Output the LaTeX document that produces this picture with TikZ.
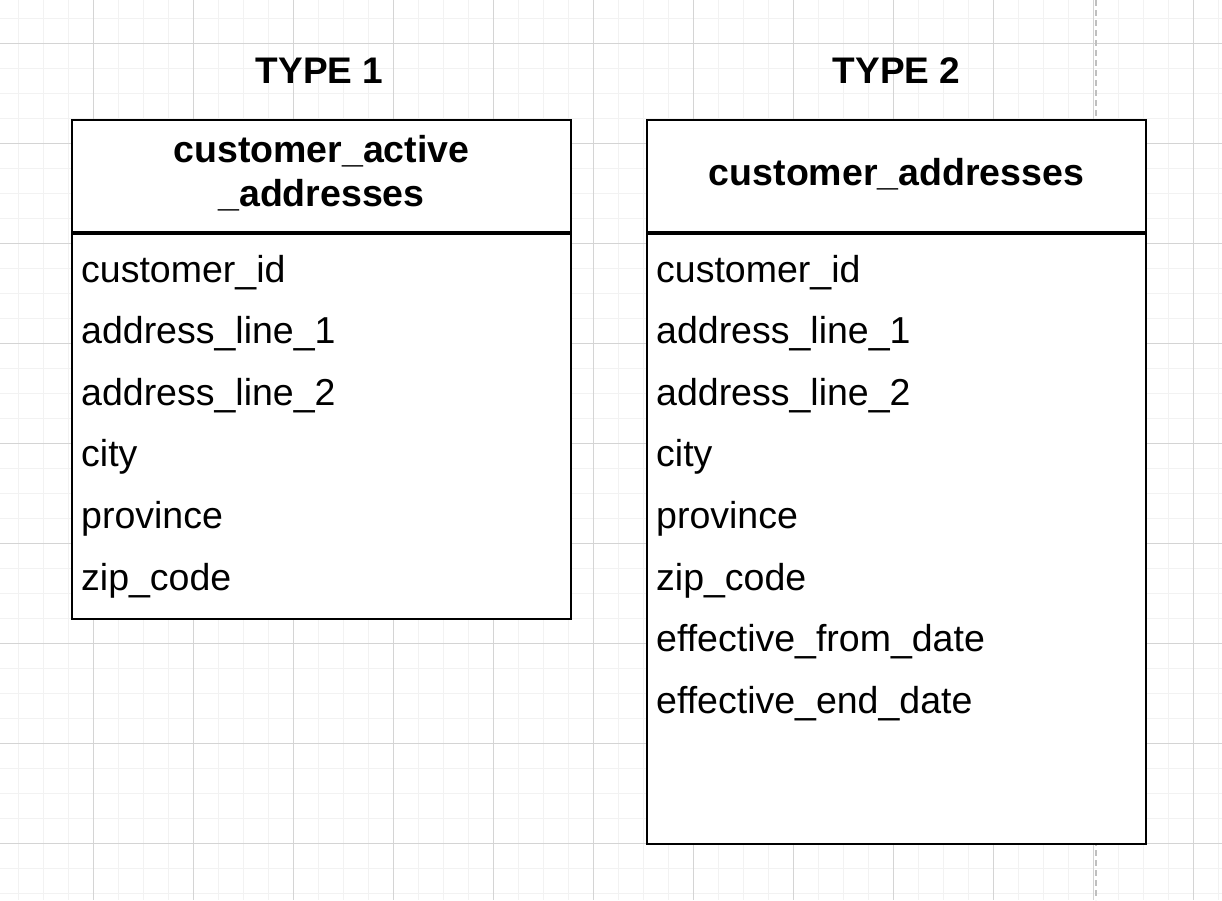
\documentclass[tikz,border=0pt]{standalone}
\usepackage{fontspec}
\setmainfont{Liberation Sans}
\usetikzlibrary{positioning,calc}
\tikzset{
  minorgrid/.style={line width=1pt, black!5},
  majorgrid/.style={line width=1pt, black!17},
  pagebreak/.style={line width=2pt, black!25, dash pattern=on 6pt off 4pt},
  tablebox/.style={draw=black, line width=2pt, fill=white, anchor=north west,
    minimum width=499pt, inner sep=0pt, outer sep=0pt},
  headrule/.style={line width=4pt, black},
  typetitle/.style={font=\fontsize{37}{44}\selectfont\bfseries, anchor=base, inner sep=0pt},
  heading/.style={font=\fontsize{37.5}{44}\selectfont\bfseries, align=center, inner sep=0pt},
  field/.style={font=\fontsize{37.5}{44}\selectfont, anchor=base west, inner sep=0pt},
}

\begin{document}
\begin{tikzpicture}[x=1pt, y=-1pt]
  % Canvas and background grid
  \useasboundingbox (0,0) rectangle (1222,900);
  \fill[white] (0,0) rectangle (1222,900);
  \foreach \g in {0,...,48} \draw[minorgrid] ({18+25*\g},0) -- ++(0,900);
  \foreach \g in {0,...,35} \draw[minorgrid] (0,{18+25*\g}) -- ++(1222,0);
  \foreach \g in {0,...,11} \draw[majorgrid] ({93+100*\g},0) -- ++(0,900);
  \foreach \g in {0,...,8} \draw[majorgrid] (0,{43+100*\g}) -- ++(1222,0);
  \draw[pagebreak] (1096,0) -- (1096,900);

  % Tables
  \node[tablebox, minimum height=499pt] (t1) at (72,120) {};
  \node[tablebox, minimum height=724pt] (t2) at (647,120) {};

  % Header rules
  \coordinate (t1h) at ($(t1.north west)+(0,113)$);
  \coordinate (t2h) at ($(t2.north west)+(0,113)$);
  \draw[headrule] (t1h) -- (t1h -| t1.east);
  \draw[headrule] (t2h) -- (t2h -| t2.east);

  % Titles and table names
  \node[typetitle] (type1) at ($(t1.north)+(-2,-37)$) {TYPE 1};
  \node[typetitle] (type2) at ($(t2.north)+(0,-37)$) {TYPE 2};
  \node[heading] (t1name) at ($(t1.north)+(0,53)$) {customer\_active\\\_addresses};
  \node[heading, anchor=base] (t2name) at ($(t2.north)+(0,65)$) {customer\_addresses};

  % Columns
  \foreach \f [count=\i from 0] in {customer\_id, address\_line\_1, address\_line\_2,
      city, province, zip\_code}
    \node[field] (t1f\i) at ($(t1.north west)+(9,{162+61.6*\i})$) {\f};
  \foreach \f [count=\i from 0] in {customer\_id, address\_line\_1, address\_line\_2,
      city, province, zip\_code, effective\_from\_date, effective\_end\_date}
    \node[field] (t2f\i) at ($(t2.north west)+(9,{162+61.6*\i})$) {\f};
\end{tikzpicture}
\end{document}
